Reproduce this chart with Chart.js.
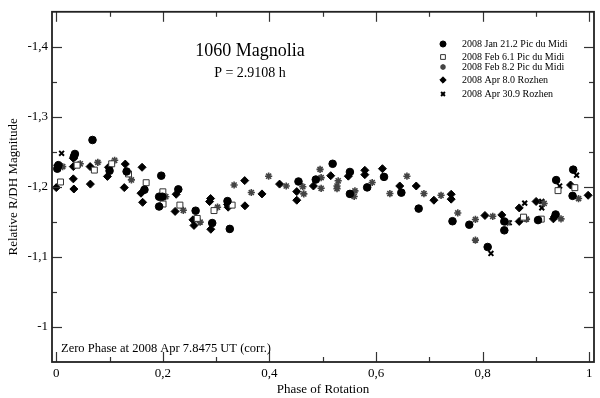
<!DOCTYPE html>
<html>
<head>
<meta charset="utf-8">
<script src="https://cdn.jsdelivr.net/npm/chart.js@4.4.1/dist/chart.umd.min.js"></script>
<style>
  html, body { margin: 0; padding: 0; background: #fff; }
  #wrap { width: 600px; height: 398px; }
</style>
</head>
<body>
<div id="wrap"><canvas id="lc" width="600" height="398"></canvas></div>
<script>
// axis tick labels
const xTicks = [0, 0.2, 0.4, 0.6, 0.8, 1];
const yTicks = [-1.4, -1.3, -1.2, -1.1, -1.0];
const xMinor = [0.1, 0.3, 0.5, 0.7, 0.9];
const yMinor = [-1.35, -1.25, -1.15, -1.05];

// 2008 Jan 21.2 Pic du Midi
const janPhase = [0.004, 0.002, 0.033, 0.035, 0.068, 0.100, 0.132, 0.1655, 0.197, 0.193, 0.199, 0.193, 0.229, 0.2615, 0.2926, 0.3256, 0.3213, 0.4545, 0.487, 0.5186, 0.551, 0.551, 0.5834, 0.615, 0.6475, 0.680, 0.7435, 0.775, 0.8095, 0.8407, 0.8407, 0.904, 0.937, 0.938, 0.970, 0.9688];
const janMag = [-1.231, -1.226, -1.243, -1.247, -1.267, -1.223, -1.222, -1.196, -1.216, -1.186, -1.186, -1.172, -1.1965, -1.166, -1.1484, -1.140, -1.1797, -1.2077, -1.2105, -1.233, -1.2213, -1.19, -1.1993, -1.2143, -1.1918, -1.169, -1.151, -1.146, -1.1142, -1.1507, -1.138, -1.1526, -1.1606, -1.2097, -1.2246, -1.1872];

// 2008 Feb 6.1 Pic du Midi
const feb6Phase = [0.008, 0.039, 0.0715, 0.104, 0.1356, 0.1687, 0.200, 0.2004, 0.232, 0.2645, 0.296, 0.330, 0.8767, 0.910, 0.9415, 0.973];
const feb6Mag = [-1.207, -1.231, -1.224, -1.233, -1.2185, -1.206, -1.193, -1.1755, -1.174, -1.155, -1.1662, -1.174, -1.1568, -1.154, -1.1947, -1.1989];

// 2008 Feb 8.2 Pic du Midi
const feb8Phase = [0.012, 0.045, 0.078, 0.1095, 0.141, 0.2055, 0.2384, 0.270, 0.3026, 0.3337, 0.366, 0.3985, 0.4315, 0.4626, 0.4645, 0.495, 0.497, 0.497, 0.529, 0.5268, 0.5268, 0.5604, 0.559, 0.5928, 0.626, 0.658, 0.6899, 0.722, 0.7534, 0.7865, 0.7865, 0.819, 0.8468, 0.8823, 0.9154, 0.9471, 0.980];
const feb8Mag = [-1.229, -1.233, -1.235, -1.238, -1.210, -1.186, -1.1666, -1.1497, -1.171, -1.2027, -1.192, -1.2153, -1.2013, -1.2003, -1.19, -1.225, -1.2133, -1.198, -1.2087, -1.2013, -1.1975, -1.1943, -1.1863, -1.2063, -1.1905, -1.2153, -1.1905, -1.188, -1.1628, -1.1535, -1.124, -1.158, -1.1488, -1.154, -1.1764, -1.1544, -1.1834];

// 2008 Apr 8.0 Rozhen
const apr8Phase = [0.0025, 0.000, 0.032, 0.032, 0.032, 0.033, 0.064, 0.0635, 0.098, 0.096, 0.1295, 0.1276, 0.161, 0.159, 0.162, 0.223, 0.225, 0.2565, 0.2584, 0.290, 0.2896, 0.2877, 0.3213, 0.3225, 0.354, 0.3536, 0.386, 0.419, 0.4513, 0.4513, 0.4825, 0.515, 0.548, 0.579, 0.579, 0.612, 0.6445, 0.6755, 0.7086, 0.741, 0.741, 0.8044, 0.836, 0.8687, 0.8687, 0.9004, 0.9328, 0.935, 0.965, 0.998];
const apr8Mag = [-1.231, -1.199, -1.241, -1.229, -1.2115, -1.197, -1.204, -1.229, -1.228, -1.215, -1.2326, -1.199, -1.228, -1.191, -1.178, -1.165, -1.1895, -1.153, -1.145, -1.1395, -1.1834, -1.179, -1.175, -1.171, -1.173, -1.209, -1.19, -1.204, -1.1933, -1.181, -1.2013, -1.216, -1.2153, -1.2237, -1.2175, -1.226, -1.2013, -1.2013, -1.181, -1.1895, -1.1825, -1.1592, -1.16, -1.17, -1.1507, -1.1792, -1.1544, -1.1578, -1.2027, -1.188];

// 2008 Apr 30.9 Rozhen
const apr30Phase = [0.010, 0.8156, 0.850, 0.879, 0.911, 0.911, 0.9445, 0.9763];
const apr30Mag = [-1.248, -1.105, -1.1488, -1.1768, -1.1792, -1.17, -1.2013, -1.2167];

const toPts = (xs, ys) => xs.map((v, i) => ({ x: v, y: ys[i] }));
const fmt = v => String(Number(v.toFixed(1))).replace('.', ',');
const serif = '"Liberation Serif", "DejaVu Serif", serif';

const datasets = [
  { label: '2008 Jan 21.2 Pic du Midi', data: toPts(janPhase, janMag), pointStyle: 'circle', pointRadius: 3.8, backgroundColor: '#000', borderColor: '#000', borderWidth: 1 },
  { label: '2008 Feb 6.1 Pic du Midi', data: toPts(feb6Phase, feb6Mag), pointStyle: 'rect', pointRadius: 4.2, backgroundColor: '#fff', borderColor: '#333', borderWidth: 1 },
  { label: '2008 Feb 8.2 Pic du Midi', data: toPts(feb8Phase, feb8Mag), pointStyle: 'star', pointRadius: 3.6, backgroundColor: '#555', borderColor: '#444', borderWidth: 1.6 },
  { label: '2008 Apr 8.0 Rozhen', data: toPts(apr8Phase, apr8Mag), pointStyle: 'rectRot', pointRadius: 4, backgroundColor: '#000', borderColor: '#000', borderWidth: 1 },
  { label: '2008 Apr 30.9 Rozhen', data: toPts(apr30Phase, apr30Mag), pointStyle: 'crossRot', pointRadius: 3.4, backgroundColor: '#000', borderColor: '#000', borderWidth: 2 }
];

// frame with inward ticks on all sides
const framePlugin = {
  id: 'frame',
  afterDraw(chart) {
    const { ctx, chartArea: a, scales: { x, y } } = chart;
    ctx.save();
    ctx.strokeStyle = '#333';
    ctx.lineWidth = 1.2;
    const tick = (x1, y1, x2, y2) => { ctx.beginPath(); ctx.moveTo(x1, y1); ctx.lineTo(x2, y2); ctx.stroke(); };
    xTicks.concat(xMinor).forEach(v => {
      const px = Math.round(x.getPixelForValue(v)) + 0.5;
      const len = xTicks.includes(v) ? 10 : 5;
      tick(px, a.bottom, px, a.bottom - len);
      tick(px, a.top, px, a.top + len);
    });
    yTicks.concat(yMinor).forEach(v => {
      const py = Math.round(y.getPixelForValue(v)) + 0.5;
      const len = yTicks.includes(v) ? 10 : 5;
      tick(a.left, py, a.left + len, py);
      tick(a.right, py, a.right - len, py);
    });
    ctx.lineWidth = 1.8;
    ctx.strokeStyle = '#222';
    ctx.strokeRect(a.left, a.top, a.right - a.left, a.bottom - a.top);
    ctx.restore();
  }
};

// titles, note and legend inside the plot
const textPlugin = {
  id: 'texts',
  afterDraw(chart) {
    const { ctx } = chart;
    ctx.save();
    ctx.fillStyle = '#000';
    ctx.textAlign = 'center';
    ctx.textBaseline = 'alphabetic';
    ctx.font = '18px ' + serif;
    ctx.fillText('1060 Magnolia', 250, 56);
    ctx.font = '14px ' + serif;
    ctx.fillText('P = 2.9108 h', 250, 77);
    ctx.textAlign = 'left';
    ctx.font = '12.5px ' + serif;
    ctx.fillText('Zero Phase at 2008 Apr 7.8475 UT (corr.)', 61, 352);

    const rows = [44, 57, 67, 80, 94];
    ctx.font = '10px ' + serif;
    ctx.textBaseline = 'middle';
    chart.data.datasets.forEach((ds, i) => {
      ctx.fillStyle = ds.backgroundColor;
      ctx.strokeStyle = ds.borderColor;
      ctx.lineWidth = ds.borderWidth;
      Chart.helpers.drawPoint(ctx, { pointStyle: ds.pointStyle, radius: ds.pointRadius * 0.8, borderWidth: ds.borderWidth }, 443, rows[i]);
      ctx.fillStyle = '#000';
      ctx.fillText(ds.label, 462, rows[i]);
    });
    ctx.restore();
  }
};

new Chart(document.getElementById('lc'), {
  type: 'scatter',
  data: { datasets },
  options: {
    responsive: false,
    devicePixelRatio: 1,
    animation: false,
    layout: { padding: { top: 5, right: 3, left: 0, bottom: 0 } },
    plugins: { legend: { display: false }, tooltip: { enabled: false } },
    scales: {
      x: {
        type: 'linear',
        min: -0.008,
        max: 1.009,
        afterBuildTicks: s => { s.ticks = xTicks.map(v => ({ value: v })); },
        afterFit: s => { s.height = 36; },
        grid: { display: false, drawTicks: false },
        border: { display: false },
        ticks: { color: '#000', padding: 4, maxRotation: 0, font: { family: serif, size: 13 }, callback: v => fmt(v) },
        title: { display: true, text: 'Phase of Rotation', color: '#000', padding: { top: 0, bottom: 1 }, font: { family: serif, size: 13 } }
      },
      y: {
        type: 'linear',
        reverse: true,
        min: -1.45,
        max: -0.95,
        afterBuildTicks: s => { s.ticks = yTicks.map(v => ({ value: v })); },
        afterFit: s => { s.width = 52; },
        grid: { display: false, drawTicks: false },
        border: { display: false },
        ticks: { color: '#000', padding: 4, font: { family: serif, size: 13 }, callback: v => fmt(v) },
        title: { display: true, text: 'Relative R/DH Magnitude', color: '#000', padding: { top: 6, bottom: 0 }, font: { family: serif, size: 13 } }
      }
    }
  },
  plugins: [framePlugin, textPlugin]
});
</script>
</body>
</html>
